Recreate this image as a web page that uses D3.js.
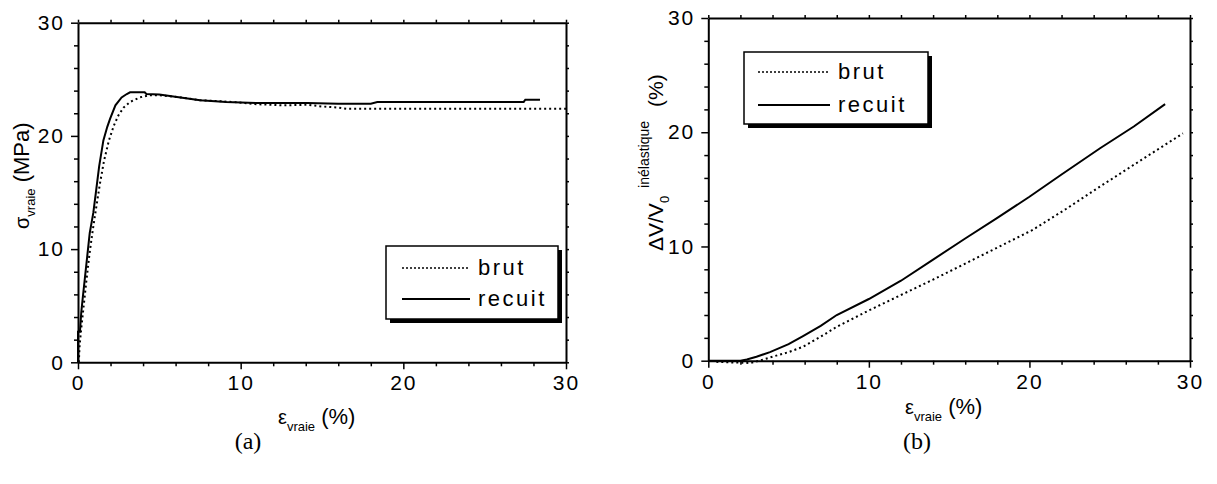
<!DOCTYPE html>
<html><head><meta charset="utf-8">
<script src="https://cdn.jsdelivr.net/npm/d3@7"></script>
<style>body{margin:0;background:#fff;} svg{display:block;}</style>
</head><body>
<svg id="c" width="1217" height="484"></svg>
<script>
// ---- data (a) ----
const aRecuitStrain = [0, 0, 0.12, 0.2, 0.3, 0.42, 0.57, 0.72, 0.94, 1.1, 1.3, 1.56, 1.8, 1.97, 2.3, 2.68, 3.0, 3.2, 4.1, 4.2, 5.0, 6.3, 7.5, 9.1, 11.1, 14.1, 16.0, 18.0, 18.4, 27.4, 27.5, 28.4];
const aRecuitStress = [0, 2.7, 2.7, 4.4, 5.8, 7.4, 9.4, 11.4, 13.2, 15.0, 17.3, 19.6, 20.8, 21.5, 22.7, 23.4, 23.7, 23.85, 23.85, 23.7, 23.65, 23.4, 23.15, 23.0, 22.9, 22.9, 22.85, 22.85, 23.0, 23.0, 23.2, 23.2];
const aBrutStrain = [0.05, 0.1, 0.2, 0.35, 0.5, 0.7, 0.9, 1.1, 1.35, 1.6, 1.9, 2.2, 2.48, 2.8, 3.2, 3.8, 4.4, 5.0, 6.3, 7.5, 9.5, 11.0, 12.6, 14.1, 15.0, 16.0, 16.5, 20, 25, 30];
const aBrutStress = [0, 1.5, 3.0, 5.0, 7.0, 9.5, 11.6, 13.5, 15.8, 17.8, 19.6, 20.9, 21.8, 22.5, 23.0, 23.4, 23.6, 23.6, 23.4, 23.15, 23.0, 22.8, 22.7, 22.75, 22.6, 22.5, 22.4, 22.4, 22.4, 22.4];
// ---- data (b) ----
const bRecuitStrain = [0, 2.0, 2.4, 3.0, 3.84, 5.0, 5.9, 7.0, 8.0, 10.0, 12.0, 14.0, 16.0, 18.0, 20.0, 22.0, 24.4, 26.5, 28.45];
const bRecuitDV = [0, 0, 0.1, 0.35, 0.75, 1.45, 2.16, 3.05, 4.0, 5.4, 7.0, 8.85, 10.7, 12.5, 14.35, 16.3, 18.6, 20.5, 22.46];
const bBrutStrain = [0.5, 1.5, 2.6, 3.2, 4.0, 5.0, 5.9, 7.0, 8.0, 10.0, 12.0, 14.0, 16.0, 18.0, 20.2, 22.3, 24.4, 27.0, 29.56];
const bBrutDV = [-0.1, -0.15, -0.2, 0.0, 0.35, 0.75, 1.22, 2.1, 2.97, 4.4, 5.75, 7.1, 8.5, 9.9, 11.45, 13.3, 15.25, 17.6, 19.9];
// ---- ticks / labels ----
const majorTicks = [0, 10, 20, 30];
const minorTicks = [2, 4, 6, 8, 12, 14, 16, 18, 22, 24, 26, 28];
const legendLabels = ["brut", "recuit"];
const panelLabels = ["(a)", "(b)"];

const svg = d3.select("#c");
const FONT = "'Liberation Sans', Arial, sans-serif";

function panel(opt) {
  const x = d3.scaleLinear().domain([0, 30]).range(opt.xr);
  const y = d3.scaleLinear().domain([0, 30]).range(opt.yr);
  const g = svg.append("g");
  const axes = [
    {gen: d3.axisBottom(x), t: `translate(0,${opt.yr[0]})`, lab: true},
    {gen: d3.axisLeft(y), t: `translate(${opt.xr[0]},0)`, lab: true},
    {gen: d3.axisTop(x), t: `translate(0,${opt.yr[1]})`, lab: false},
    {gen: d3.axisRight(y), t: `translate(${opt.xr[1]},0)`, lab: false}
  ];
  axes.forEach(a => {
    const gm = g.append("g").attr("transform", a.t)
      .call(a.gen.tickValues(minorTicks).tickSize(a.lab ? 4 : 3).tickFormat(""));
    gm.select(".domain").remove();
    gm.selectAll("line").attr("stroke", "#000").attr("stroke-width", 1.5);
    const gM = g.append("g").attr("transform", a.t)
      .call(a.gen.tickValues(majorTicks).tickSize(a.lab ? 7 : 3).tickSizeOuter(0).tickPadding(a.lab ? 6 : 0)
        .tickFormat(a.lab ? d3.format("d") : ""));
    gM.select(".domain").attr("stroke", "#000").attr("stroke-width", 2);
    gM.selectAll("line").attr("stroke", "#000").attr("stroke-width", 1.5);
    gM.selectAll("text").attr("font-family", FONT).attr("font-size", 21)
      .attr("letter-spacing", "2px").attr("fill", "#000");
  });
  const line = d3.line().x(d => x(d[0])).y(d => y(d[1]));
  g.append("path").datum(d3.zip(opt.brutX, opt.brutY)).attr("d", line)
    .attr("fill", "none").attr("stroke", "#000").attr("stroke-width", 2).attr("stroke-dasharray", "2,3");
  g.append("path").datum(d3.zip(opt.recX, opt.recY)).attr("d", line)
    .attr("fill", "none").attr("stroke", "#000").attr("stroke-width", 2);

  // legend
  const L = opt.leg;
  g.append("rect").attr("x", L.x + 4).attr("y", L.y + 4).attr("width", L.w).attr("height", L.h).attr("fill", "#000");
  g.append("rect").attr("x", L.x).attr("y", L.y).attr("width", L.w).attr("height", L.h)
    .attr("fill", "#fff").attr("stroke", "#000").attr("stroke-width", 1.5);
  legendLabels.forEach((lab, i) => {
    const yy = L.y + L.r0 + i * L.dr;
    g.append("line").attr("x1", L.x + L.l0).attr("x2", L.x + L.l1).attr("y1", yy).attr("y2", yy)
      .attr("stroke", "#000").attr("stroke-width", i === 0 ? 1.5 : 1.8)
      .attr("stroke-dasharray", i === 0 ? "2,2" : null);
    g.append("text").attr("x", L.x + L.tx).attr("y", yy + 7).text(lab)
      .attr("font-family", FONT).attr("font-size", 22).attr("letter-spacing", "2.5px");
  });
  return {x, y, g};
}

const A = panel({xr: [78, 566], yr: [362.3, 22.7],
  brutX: aBrutStrain, brutY: aBrutStress, recX: aRecuitStrain, recY: aRecuitStress,
  leg: {x: 386, y: 246, w: 172, h: 73, r0: 22, dr: 31, l0: 16, l1: 84, tx: 92}});
const B = panel({xr: [708.3, 1190], yr: [360.7, 18],
  brutX: bBrutStrain, brutY: bBrutDV, recX: bRecuitStrain, recY: bRecuitDV,
  leg: {x: 744, y: 52, w: 184, h: 72, r0: 20, dr: 33, l0: 14, l1: 86, tx: 94}});

// axis titles
function xTitle(x0, by) {
  const t = svg.append("text").attr("x", x0).attr("y", by)
    .attr("font-family", FONT).attr("font-size", 22);
  t.append("tspan").attr("font-size", 20).text("ε");
  t.append("tspan").attr("font-size", 13).attr("dy", 7).text("vraie");
  t.append("tspan").attr("dy", -7).text(" (%)");
}
xTitle(278, 424);
xTitle(905, 414);

const yA = svg.append("text").attr("transform", "translate(29,229) rotate(-90)")
  .attr("font-family", FONT).attr("font-size", 22);
yA.append("tspan").attr("font-size", 20).text("σ");
yA.append("tspan").attr("font-size", 13).attr("dy", 6).text("vraie");
yA.append("tspan").attr("dy", -6).text(" (MPa)");

const yB = svg.append("text").attr("transform", "translate(663,251) rotate(-90)")
  .attr("font-family", FONT).attr("font-size", 21);
yB.append("tspan").text("ΔV/V");
yB.append("tspan").attr("font-size", 13).attr("dy", 6).text("0");
yB.append("tspan").attr("font-size", 14).attr("dy", -20).attr("dx", 8).text("inélastique");
yB.append("tspan").attr("dy", 14).attr("dx", 14).text("(%)");

// panel labels
[[248, panelLabels[0]], [917, panelLabels[1]]].forEach(([cx, s]) => {
  svg.append("text").attr("x", cx).attr("y", 449).attr("text-anchor", "middle")
    .attr("font-family", "'Liberation Serif', 'Times New Roman', serif").attr("font-size", 24).text(s);
});
</script>
</body></html>
